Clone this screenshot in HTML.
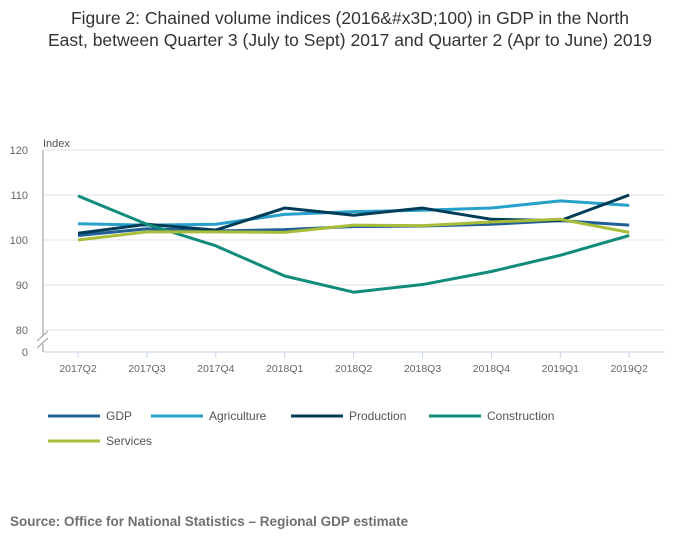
<!DOCTYPE html>
<html><head><meta charset="utf-8"><style>
body{margin:0;background:#fff;font-family:"Liberation Sans",sans-serif;}
svg text{font-family:"Liberation Sans",sans-serif;}
</style></head><body>
<svg width="700" height="549" viewBox="0 0 700 549" xmlns="http://www.w3.org/2000/svg">
<text x="350" y="24" text-anchor="middle" font-size="17.5" fill="#333">Figure 2: Chained volume indices (2016&amp;#x3D;100) in GDP in the North</text>
<text x="350" y="46" text-anchor="middle" font-size="17.5" fill="#333">East, between Quarter 3 (July to Sept) 2017 and Quarter 2 (Apr to June) 2019</text>
<g id="grid"></g><g id="series"></g><g id="legend"></g>
<text x="10" y="526" font-size="13.5" font-weight="bold" fill="#707070">Source: Office for National Statistics – Regional GDP estimate</text>
</svg>
<script>
const categories=["2017Q2","2017Q3","2017Q4","2018Q1","2018Q2","2018Q3","2018Q4","2019Q1","2019Q2"];
const yTicks=[80,90,100,110,120];
const gdp=[101,102.5,102,102.3,103,103.1,103.5,104.3,103.3];
const agriculture=[103.6,103.3,103.5,105.7,106.3,106.6,107.1,108.7,107.7];
const production=[101.5,103.5,102.2,107.1,105.5,107.1,104.6,104.3,110];
const construction=[109.8,103.5,98.7,92,88.4,90.1,93,96.6,101];
const services=[100,101.8,101.8,101.7,103.3,103.2,104,104.6,101.7];
const seriesNames=["GDP","Agriculture","Production","Construction","Services"];
const seriesData=[gdp,agriculture,production,construction,services];
const colors=["#206095","#27a0cc","#003c57","#118c7b","#a8bd3a"];
const NS="http://www.w3.org/2000/svg";
const x=i=>78+i*68.9;
const y=v=>150+(120-v)*4.5;
function mk(t,a,p){const e=document.createElementNS(NS,t);for(const k in a)e.setAttribute(k,a[k]);p.appendChild(e);return e;}
const g=document.getElementById('grid');
yTicks.forEach(v=>{
 const l=mk('line',{x1:43,x2:665,y1:y(v),y2:y(v),stroke:'#e0e0e0'},g);
 
 
 const t=mk('text',{x:28,y:y(v)+4,'text-anchor':'end','font-size':11,fill:'#666'},g);t.textContent=v;
 
 
});
const z=mk('text',{x:28,y:356,'text-anchor':'end','font-size':11,fill:'#666'},g);z.textContent='0';


const ya=mk('path',{d:'M43 150V335M43 344V352',stroke:'#999',fill:'none'},g);


mk('path',{d:'M37 341L48 331M37 348L48 338',stroke:'#999',fill:'none'},g);
const xa=mk('line',{x1:43,x2:665,y1:352,y2:352,stroke:'#c5d3e8'},g);


const yt=mk('text',{x:43,y:147,'font-size':11,fill:'#555'},g);yt.textContent='Index';


categories.forEach((c,i)=>{
 mk('line',{x1:x(i),x2:x(i),y1:352,y2:358,stroke:'#c5d3e8'},g);
 const t=mk('text',{x:x(i),y:372,'text-anchor':'middle','font-size':10.5,fill:'#666'},g);t.textContent=c;
 
 
});
const s=document.getElementById('series');
seriesData.forEach((d,k)=>{
 const p=mk('polyline',{points:d.map((v,i)=>x(i)+','+y(v)).join(' '),fill:'none',stroke:colors[k],'stroke-width':3,'stroke-linejoin':'round'},s);
 
 
});
const lg=document.getElementById('legend');
const lx=[48,151,291,429,48],ly=[416,416,416,416,441];
seriesNames.forEach((n,k)=>{
 const gg=mk('g',{},lg);
 
 
 mk('line',{x1:lx[k],x2:lx[k]+52,y1:ly[k],y2:ly[k],stroke:colors[k],'stroke-width':3},gg);
 const t=mk('text',{x:lx[k]+58,y:ly[k]+4,'font-size':12,fill:'#555'},gg);t.textContent=n;
});
</script>
</body></html>
